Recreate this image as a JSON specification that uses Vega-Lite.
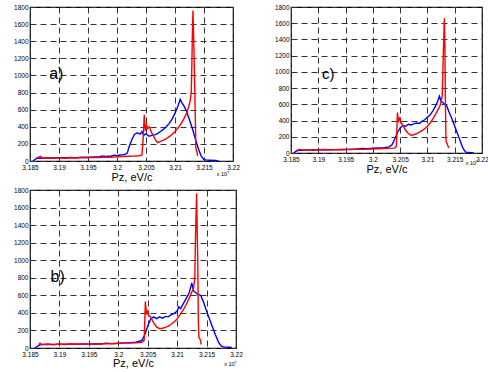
{
  "$schema": "https://vega.github.io/schema/vega-lite/v6.json",
  "padding": {"left": 12, "top": 3, "right": 0, "bottom": 0},
  "background": "white",
  "config": {
    "view": {"stroke": "black", "strokeWidth": 1.2},
    "axis": {
      "labelFont": "Liberation Sans", "labelFontSize": 6.5, "labelColor": "black",
      "labelOverlap": false, "labelFlush": false, "labelBound": false, "tickCount": 20,
      "domain": false, "ticks": false, "labelPadding": 2,
      "gridColor": "#333333", "gridDash": [6, 4], "gridOpacity": 1, "gridWidth": 1,
      "titleFont": "Liberation Sans", "titleFontWeight": "normal", "titleFontSize": 11, "titleColor": "black", "titlePadding": 1
    },
    "axisX": {"labelPadding": 3},
    "line": {"strokeWidth": 1.4},
    "text": {"font": "Liberation Sans", "color": "black"}
  },
  "datasets": {
    "a": [
      {"s": "blue", "x": 3.1855, "y": 0}, {"s": "blue", "x": 3.186, "y": 25}, {"s": "blue", "x": 3.1865, "y": 35}, {"s": "blue", "x": 3.187, "y": 32}, {"s": "blue", "x": 3.188, "y": 38}, {"s": "blue", "x": 3.189, "y": 35}, {"s": "blue", "x": 3.19, "y": 40}, {"s": "blue", "x": 3.191, "y": 38}, {"s": "blue", "x": 3.192, "y": 42}, {"s": "blue", "x": 3.193, "y": 40}, {"s": "blue", "x": 3.194, "y": 43}, {"s": "blue", "x": 3.195, "y": 45}, {"s": "blue", "x": 3.196, "y": 48}, {"s": "blue", "x": 3.197, "y": 50}, {"s": "blue", "x": 3.1975, "y": 60}, {"s": "blue", "x": 3.198, "y": 52}, {"s": "blue", "x": 3.199, "y": 58}, {"s": "blue", "x": 3.1995, "y": 68}, {"s": "blue", "x": 3.2, "y": 62}, {"s": "blue", "x": 3.2005, "y": 70}, {"s": "blue", "x": 3.201, "y": 72}, {"s": "blue", "x": 3.2015, "y": 80}, {"s": "blue", "x": 3.2018, "y": 95}, {"s": "blue", "x": 3.202, "y": 150}, {"s": "blue", "x": 3.2025, "y": 240}, {"s": "blue", "x": 3.203, "y": 310}, {"s": "blue", "x": 3.2035, "y": 330}, {"s": "blue", "x": 3.204, "y": 315}, {"s": "blue", "x": 3.2043, "y": 345}, {"s": "blue", "x": 3.2046, "y": 300}, {"s": "blue", "x": 3.205, "y": 320}, {"s": "blue", "x": 3.2055, "y": 290}, {"s": "blue", "x": 3.206, "y": 300}, {"s": "blue", "x": 3.2065, "y": 305}, {"s": "blue", "x": 3.207, "y": 320}, {"s": "blue", "x": 3.2075, "y": 345}, {"s": "blue", "x": 3.208, "y": 370}, {"s": "blue", "x": 3.2085, "y": 400}, {"s": "blue", "x": 3.209, "y": 440}, {"s": "blue", "x": 3.2095, "y": 490}, {"s": "blue", "x": 3.21, "y": 560}, {"s": "blue", "x": 3.2105, "y": 640}, {"s": "blue", "x": 3.2109, "y": 720}, {"s": "blue", "x": 3.2112, "y": 680}, {"s": "blue", "x": 3.2115, "y": 650}, {"s": "blue", "x": 3.212, "y": 580}, {"s": "blue", "x": 3.2125, "y": 480}, {"s": "blue", "x": 3.213, "y": 380}, {"s": "blue", "x": 3.2135, "y": 260}, {"s": "blue", "x": 3.214, "y": 150}, {"s": "blue", "x": 3.2145, "y": 60}, {"s": "blue", "x": 3.215, "y": 15}, {"s": "blue", "x": 3.2155, "y": 10}, {"s": "blue", "x": 3.216, "y": 8}, {"s": "blue", "x": 3.217, "y": 5}, {"s": "blue", "x": 3.2175, "y": 0},
      {"s": "red", "x": 3.186, "y": 30}, {"s": "red", "x": 3.1865, "y": 45}, {"s": "red", "x": 3.1868, "y": 55}, {"s": "red", "x": 3.1872, "y": 35}, {"s": "red", "x": 3.188, "y": 38}, {"s": "red", "x": 3.189, "y": 32}, {"s": "red", "x": 3.19, "y": 36}, {"s": "red", "x": 3.191, "y": 33}, {"s": "red", "x": 3.192, "y": 38}, {"s": "red", "x": 3.193, "y": 35}, {"s": "red", "x": 3.194, "y": 40}, {"s": "red", "x": 3.195, "y": 37}, {"s": "red", "x": 3.196, "y": 42}, {"s": "red", "x": 3.197, "y": 40}, {"s": "red", "x": 3.198, "y": 45}, {"s": "red", "x": 3.199, "y": 43}, {"s": "red", "x": 3.2, "y": 48}, {"s": "red", "x": 3.201, "y": 52}, {"s": "red", "x": 3.202, "y": 55}, {"s": "red", "x": 3.203, "y": 58}, {"s": "red", "x": 3.2038, "y": 62}, {"s": "red", "x": 3.2043, "y": 70}, {"s": "red", "x": 3.2045, "y": 250}, {"s": "red", "x": 3.2047, "y": 540}, {"s": "red", "x": 3.2049, "y": 350}, {"s": "red", "x": 3.2051, "y": 420}, {"s": "red", "x": 3.2053, "y": 380}, {"s": "red", "x": 3.2056, "y": 400}, {"s": "red", "x": 3.2059, "y": 340}, {"s": "red", "x": 3.2063, "y": 290}, {"s": "red", "x": 3.2067, "y": 240}, {"s": "red", "x": 3.207, "y": 215}, {"s": "red", "x": 3.2075, "y": 230}, {"s": "red", "x": 3.208, "y": 245}, {"s": "red", "x": 3.2085, "y": 260}, {"s": "red", "x": 3.209, "y": 285}, {"s": "red", "x": 3.2095, "y": 310}, {"s": "red", "x": 3.21, "y": 345}, {"s": "red", "x": 3.2105, "y": 385}, {"s": "red", "x": 3.211, "y": 430}, {"s": "red", "x": 3.2115, "y": 490}, {"s": "red", "x": 3.212, "y": 560}, {"s": "red", "x": 3.2123, "y": 620}, {"s": "red", "x": 3.2126, "y": 700}, {"s": "red", "x": 3.2128, "y": 800}, {"s": "red", "x": 3.2129, "y": 1100}, {"s": "red", "x": 3.213, "y": 1500}, {"s": "red", "x": 3.2131, "y": 1760}, {"s": "red", "x": 3.2133, "y": 1200}, {"s": "red", "x": 3.2135, "y": 500}, {"s": "red", "x": 3.2136, "y": 150}, {"s": "red", "x": 3.2138, "y": 100}, {"s": "red", "x": 3.2139, "y": 60}
    ],
    "b": [
      {"s": "blue", "x": 3.1858, "y": 0}, {"s": "blue", "x": 3.1865, "y": 30}, {"s": "blue", "x": 3.187, "y": 38}, {"s": "blue", "x": 3.188, "y": 42}, {"s": "blue", "x": 3.189, "y": 38}, {"s": "blue", "x": 3.19, "y": 44}, {"s": "blue", "x": 3.191, "y": 40}, {"s": "blue", "x": 3.192, "y": 46}, {"s": "blue", "x": 3.193, "y": 42}, {"s": "blue", "x": 3.194, "y": 47}, {"s": "blue", "x": 3.195, "y": 44}, {"s": "blue", "x": 3.196, "y": 48}, {"s": "blue", "x": 3.197, "y": 46}, {"s": "blue", "x": 3.198, "y": 55}, {"s": "blue", "x": 3.199, "y": 50}, {"s": "blue", "x": 3.2, "y": 55}, {"s": "blue", "x": 3.201, "y": 58}, {"s": "blue", "x": 3.202, "y": 60}, {"s": "blue", "x": 3.203, "y": 66}, {"s": "blue", "x": 3.204, "y": 85}, {"s": "blue", "x": 3.2045, "y": 150}, {"s": "blue", "x": 3.205, "y": 250}, {"s": "blue", "x": 3.2055, "y": 330}, {"s": "blue", "x": 3.206, "y": 355}, {"s": "blue", "x": 3.2065, "y": 335}, {"s": "blue", "x": 3.207, "y": 355}, {"s": "blue", "x": 3.2075, "y": 340}, {"s": "blue", "x": 3.208, "y": 360}, {"s": "blue", "x": 3.2085, "y": 355}, {"s": "blue", "x": 3.209, "y": 380}, {"s": "blue", "x": 3.2095, "y": 395}, {"s": "blue", "x": 3.21, "y": 420}, {"s": "blue", "x": 3.2103, "y": 470}, {"s": "blue", "x": 3.2106, "y": 450}, {"s": "blue", "x": 3.211, "y": 500}, {"s": "blue", "x": 3.2115, "y": 560}, {"s": "blue", "x": 3.212, "y": 620}, {"s": "blue", "x": 3.2125, "y": 740}, {"s": "blue", "x": 3.2128, "y": 650}, {"s": "blue", "x": 3.213, "y": 640}, {"s": "blue", "x": 3.2135, "y": 610}, {"s": "blue", "x": 3.214, "y": 600}, {"s": "blue", "x": 3.2145, "y": 520}, {"s": "blue", "x": 3.215, "y": 420}, {"s": "blue", "x": 3.2155, "y": 330}, {"s": "blue", "x": 3.216, "y": 240}, {"s": "blue", "x": 3.2165, "y": 150}, {"s": "blue", "x": 3.217, "y": 70}, {"s": "blue", "x": 3.2175, "y": 20}, {"s": "blue", "x": 3.218, "y": 10}, {"s": "blue", "x": 3.219, "y": 8}, {"s": "blue", "x": 3.2193, "y": 0},
      {"s": "red", "x": 3.1865, "y": 30}, {"s": "red", "x": 3.1867, "y": 55}, {"s": "red", "x": 3.187, "y": 40}, {"s": "red", "x": 3.188, "y": 44}, {"s": "red", "x": 3.189, "y": 40}, {"s": "red", "x": 3.19, "y": 45}, {"s": "red", "x": 3.191, "y": 42}, {"s": "red", "x": 3.192, "y": 46}, {"s": "red", "x": 3.193, "y": 43}, {"s": "red", "x": 3.194, "y": 47}, {"s": "red", "x": 3.195, "y": 44}, {"s": "red", "x": 3.196, "y": 49}, {"s": "red", "x": 3.197, "y": 46}, {"s": "red", "x": 3.198, "y": 50}, {"s": "red", "x": 3.199, "y": 48}, {"s": "red", "x": 3.2, "y": 52}, {"s": "red", "x": 3.201, "y": 55}, {"s": "red", "x": 3.202, "y": 58}, {"s": "red", "x": 3.203, "y": 60}, {"s": "red", "x": 3.204, "y": 65}, {"s": "red", "x": 3.2044, "y": 90}, {"s": "red", "x": 3.2046, "y": 530}, {"s": "red", "x": 3.2048, "y": 380}, {"s": "red", "x": 3.205, "y": 420}, {"s": "red", "x": 3.2052, "y": 370}, {"s": "red", "x": 3.2055, "y": 350}, {"s": "red", "x": 3.206, "y": 290}, {"s": "red", "x": 3.2065, "y": 240}, {"s": "red", "x": 3.207, "y": 220}, {"s": "red", "x": 3.2075, "y": 225}, {"s": "red", "x": 3.208, "y": 235}, {"s": "red", "x": 3.2085, "y": 250}, {"s": "red", "x": 3.209, "y": 270}, {"s": "red", "x": 3.2095, "y": 300}, {"s": "red", "x": 3.21, "y": 330}, {"s": "red", "x": 3.2105, "y": 380}, {"s": "red", "x": 3.211, "y": 430}, {"s": "red", "x": 3.2115, "y": 490}, {"s": "red", "x": 3.212, "y": 560}, {"s": "red", "x": 3.2125, "y": 640}, {"s": "red", "x": 3.2128, "y": 680}, {"s": "red", "x": 3.213, "y": 800}, {"s": "red", "x": 3.2131, "y": 1200}, {"s": "red", "x": 3.2133, "y": 1760}, {"s": "red", "x": 3.2135, "y": 1000}, {"s": "red", "x": 3.2136, "y": 300}, {"s": "red", "x": 3.2137, "y": 120}, {"s": "red", "x": 3.2139, "y": 100}, {"s": "red", "x": 3.2141, "y": 40}
    ],
    "c": [
      {"s": "blue", "x": 3.1855, "y": 0}, {"s": "blue", "x": 3.186, "y": 25}, {"s": "blue", "x": 3.1865, "y": 35}, {"s": "blue", "x": 3.187, "y": 32}, {"s": "blue", "x": 3.188, "y": 38}, {"s": "blue", "x": 3.189, "y": 34}, {"s": "blue", "x": 3.19, "y": 40}, {"s": "blue", "x": 3.191, "y": 44}, {"s": "blue", "x": 3.192, "y": 40}, {"s": "blue", "x": 3.193, "y": 42}, {"s": "blue", "x": 3.194, "y": 45}, {"s": "blue", "x": 3.195, "y": 43}, {"s": "blue", "x": 3.196, "y": 48}, {"s": "blue", "x": 3.197, "y": 50}, {"s": "blue", "x": 3.198, "y": 55}, {"s": "blue", "x": 3.199, "y": 52}, {"s": "blue", "x": 3.2, "y": 58}, {"s": "blue", "x": 3.201, "y": 62}, {"s": "blue", "x": 3.202, "y": 65}, {"s": "blue", "x": 3.203, "y": 75}, {"s": "blue", "x": 3.2035, "y": 100}, {"s": "blue", "x": 3.204, "y": 170}, {"s": "blue", "x": 3.2045, "y": 250}, {"s": "blue", "x": 3.205, "y": 310}, {"s": "blue", "x": 3.2055, "y": 340}, {"s": "blue", "x": 3.206, "y": 330}, {"s": "blue", "x": 3.2065, "y": 355}, {"s": "blue", "x": 3.207, "y": 345}, {"s": "blue", "x": 3.2075, "y": 360}, {"s": "blue", "x": 3.208, "y": 370}, {"s": "blue", "x": 3.2085, "y": 365}, {"s": "blue", "x": 3.209, "y": 390}, {"s": "blue", "x": 3.2095, "y": 410}, {"s": "blue", "x": 3.21, "y": 440}, {"s": "blue", "x": 3.2105, "y": 470}, {"s": "blue", "x": 3.211, "y": 520}, {"s": "blue", "x": 3.2115, "y": 580}, {"s": "blue", "x": 3.2119, "y": 640}, {"s": "blue", "x": 3.2122, "y": 700}, {"s": "blue", "x": 3.2125, "y": 640}, {"s": "blue", "x": 3.213, "y": 610}, {"s": "blue", "x": 3.2135, "y": 585}, {"s": "blue", "x": 3.214, "y": 500}, {"s": "blue", "x": 3.2145, "y": 420}, {"s": "blue", "x": 3.215, "y": 330}, {"s": "blue", "x": 3.2155, "y": 240}, {"s": "blue", "x": 3.216, "y": 150}, {"s": "blue", "x": 3.2165, "y": 60}, {"s": "blue", "x": 3.217, "y": 10}, {"s": "blue", "x": 3.218, "y": 5}, {"s": "blue", "x": 3.2185, "y": 0},
      {"s": "red", "x": 3.186, "y": 30}, {"s": "red", "x": 3.1865, "y": 45}, {"s": "red", "x": 3.187, "y": 40}, {"s": "red", "x": 3.188, "y": 36}, {"s": "red", "x": 3.189, "y": 40}, {"s": "red", "x": 3.19, "y": 37}, {"s": "red", "x": 3.191, "y": 41}, {"s": "red", "x": 3.192, "y": 38}, {"s": "red", "x": 3.193, "y": 42}, {"s": "red", "x": 3.194, "y": 40}, {"s": "red", "x": 3.195, "y": 44}, {"s": "red", "x": 3.196, "y": 42}, {"s": "red", "x": 3.197, "y": 46}, {"s": "red", "x": 3.198, "y": 45}, {"s": "red", "x": 3.199, "y": 48}, {"s": "red", "x": 3.2, "y": 50}, {"s": "red", "x": 3.201, "y": 52}, {"s": "red", "x": 3.202, "y": 55}, {"s": "red", "x": 3.203, "y": 57}, {"s": "red", "x": 3.204, "y": 60}, {"s": "red", "x": 3.2043, "y": 80}, {"s": "red", "x": 3.2045, "y": 500}, {"s": "red", "x": 3.2047, "y": 380}, {"s": "red", "x": 3.2049, "y": 440}, {"s": "red", "x": 3.2052, "y": 370}, {"s": "red", "x": 3.2056, "y": 330}, {"s": "red", "x": 3.206, "y": 280}, {"s": "red", "x": 3.2065, "y": 240}, {"s": "red", "x": 3.207, "y": 220}, {"s": "red", "x": 3.2075, "y": 225}, {"s": "red", "x": 3.208, "y": 240}, {"s": "red", "x": 3.2085, "y": 255}, {"s": "red", "x": 3.209, "y": 275}, {"s": "red", "x": 3.2095, "y": 300}, {"s": "red", "x": 3.21, "y": 330}, {"s": "red", "x": 3.2105, "y": 370}, {"s": "red", "x": 3.211, "y": 420}, {"s": "red", "x": 3.2115, "y": 480}, {"s": "red", "x": 3.212, "y": 540}, {"s": "red", "x": 3.2124, "y": 600}, {"s": "red", "x": 3.2127, "y": 700}, {"s": "red", "x": 3.2128, "y": 900}, {"s": "red", "x": 3.2129, "y": 1200}, {"s": "red", "x": 3.2131, "y": 1660}, {"s": "red", "x": 3.2132, "y": 1300}, {"s": "red", "x": 3.2133, "y": 600}, {"s": "red", "x": 3.2134, "y": 150}, {"s": "red", "x": 3.2137, "y": 100}, {"s": "red", "x": 3.2139, "y": 60}
    ],
    "labels": [
      {"p": "a", "t": "a)", "x": 3.1883, "y": 1020, "e": "x 10⁷", "ex": 3.2172, "ey": -152},
      {"p": "b", "t": "b)", "x": 3.1885, "y": 810, "e": "x 10⁷", "ex": 3.218, "ey": -180},
      {"p": "c", "t": "c)", "x": 3.1907, "y": 975, "e": "x 10⁷", "ex": 3.217, "ey": -123}
    ]
  },
  "hconcat": [
    {
      "vconcat": [
        {
          "width": 203, "height": 154,
          "layer": [
            {
              "data": {"name": "a"},
              "mark": {"type": "line", "interpolate": "linear"},
              "encoding": {
                "x": {"field": "x", "type": "quantitative", "scale": {"domain": [3.185, 3.22], "nice": false, "zero": false},
                      "axis": {"values": [3.185, 3.19, 3.195, 3.2, 3.205, 3.21, 3.215, 3.22], "format": "~g", "title": "Pz, eV/c"}},
                "y": {"field": "y", "type": "quantitative", "scale": {"domain": [0, 1800], "nice": false},
                      "axis": {"values": [0, 200, 400, 600, 800, 1000, 1200, 1400, 1600, 1800], "format": "d", "title": null}},
                "color": {"field": "s", "type": "nominal", "scale": {"domain": ["blue", "red"], "range": ["#0000ff", "#ff0000"]}, "legend": null},
                "order": {"field": "x", "type": "quantitative"}
              }
            },
            {
              "data": {"name": "labels"},
              "transform": [{"filter": "datum.p === 'a'"}],
              "layer": [
                {"mark": {"type": "text", "fontSize": 16, "align": "left", "baseline": "middle"},
                 "encoding": {"x": {"field": "x", "type": "quantitative"}, "y": {"field": "y", "type": "quantitative"}, "text": {"field": "t"}}},
                {"mark": {"type": "text", "fontSize": 5.5, "align": "left", "baseline": "middle"},
                 "encoding": {"x": {"field": "ex", "type": "quantitative"}, "y": {"field": "ey", "type": "quantitative"}, "text": {"field": "e"}}}
              ]
            }
          ]
        },
        {
          "width": 206, "height": 158,
          "layer": [
            {
              "data": {"name": "b"},
              "mark": {"type": "line", "interpolate": "linear"},
              "encoding": {
                "x": {"field": "x", "type": "quantitative", "scale": {"domain": [3.185, 3.22], "nice": false, "zero": false},
                      "axis": {"values": [3.185, 3.19, 3.195, 3.2, 3.205, 3.21, 3.215, 3.22], "format": "~g", "title": "Pz, eV/c", "titlePadding": 0}},
                "y": {"field": "y", "type": "quantitative", "scale": {"domain": [0, 1800], "nice": false},
                      "axis": {"values": [0, 200, 400, 600, 800, 1000, 1200, 1400, 1600, 1800], "format": "d", "title": null}},
                "color": {"field": "s", "type": "nominal", "scale": {"domain": ["blue", "red"], "range": ["#0000ff", "#ff0000"]}, "legend": null},
                "order": {"field": "x", "type": "quantitative"}
              }
            },
            {
              "data": {"name": "labels"},
              "transform": [{"filter": "datum.p === 'b'"}],
              "layer": [
                {"mark": {"type": "text", "fontSize": 16, "align": "left", "baseline": "middle"},
                 "encoding": {"x": {"field": "x", "type": "quantitative"}, "y": {"field": "y", "type": "quantitative"}, "text": {"field": "t"}}},
                {"mark": {"type": "text", "fontSize": 5.5, "align": "left", "baseline": "middle"},
                 "encoding": {"x": {"field": "ex", "type": "quantitative"}, "y": {"field": "ey", "type": "quantitative"}, "text": {"field": "e"}}}
              ]
            }
          ]
        }
      ],
      "spacing": 2
    },
    {
      "width": 191, "height": 146,
      "layer": [
        {
          "data": {"name": "c"},
          "mark": {"type": "line", "interpolate": "linear"},
          "encoding": {
            "x": {"field": "x", "type": "quantitative", "scale": {"domain": [3.185, 3.22], "nice": false, "zero": false},
                  "axis": {"values": [3.185, 3.19, 3.195, 3.2, 3.205, 3.21, 3.215, 3.22], "format": "~g", "title": "Pz, eV/c"}},
            "y": {"field": "y", "type": "quantitative", "scale": {"domain": [0, 1800], "nice": false},
                  "axis": {"values": [0, 200, 400, 600, 800, 1000, 1200, 1400, 1600, 1800], "format": "d", "title": null}},
            "color": {"field": "s", "type": "nominal", "scale": {"domain": ["blue", "red"], "range": ["#0000ff", "#ff0000"]}, "legend": null},
            "order": {"field": "x", "type": "quantitative"}
          }
        },
        {
          "data": {"name": "labels"},
          "transform": [{"filter": "datum.p === 'c'"}],
          "layer": [
            {"mark": {"type": "text", "fontSize": 15, "align": "left", "baseline": "middle"},
             "encoding": {"x": {"field": "x", "type": "quantitative"}, "y": {"field": "y", "type": "quantitative"}, "text": {"field": "t"}}},
            {"mark": {"type": "text", "fontSize": 5.5, "align": "left", "baseline": "middle"},
             "encoding": {"x": {"field": "ex", "type": "quantitative"}, "y": {"field": "ey", "type": "quantitative"}, "text": {"field": "e"}}}
          ]
        }
      ]
    }
  ],
  "spacing": 30,
  "resolve": {"scale": {"color": "shared"}}
}
